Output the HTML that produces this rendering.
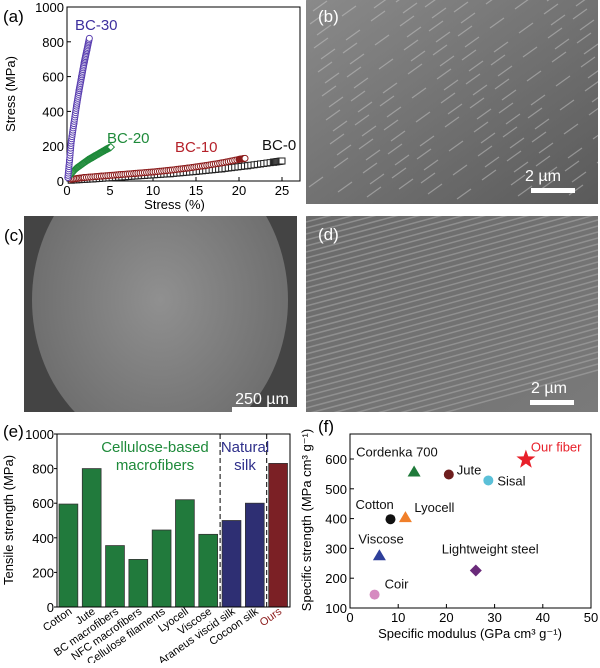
<!DOCTYPE html>
<html><head><meta charset="utf-8"><style>
body{margin:0;background:#fff;font-family:"Liberation Sans",sans-serif;}
svg text{font-family:"Liberation Sans",sans-serif;}
</style></head><body>
<svg width="600" height="663" viewBox="0 0 600 663">
<defs>
<linearGradient id="semb" x1="0" y1="0" x2="1" y2="1"><stop offset="0" stop-color="#8a8a8a"/><stop offset="1" stop-color="#5a5a5a"/></linearGradient>
<linearGradient id="semd" x1="0" y1="0" x2="1" y2="1"><stop offset="0" stop-color="#6a6a6a"/><stop offset="1" stop-color="#7a7a7a"/></linearGradient>
<radialGradient id="semc" cx="0.5" cy="0.5" r="0.55"><stop offset="0" stop-color="#909090"/><stop offset="1" stop-color="#6c6c6c"/></radialGradient>
<clipPath id="clipb"><rect x="306" y="0" width="292" height="204"/></clipPath>
<clipPath id="clipc"><rect x="24" y="216" width="273" height="196"/></clipPath>
<clipPath id="clipd"><rect x="306" y="216" width="292" height="196"/></clipPath>
</defs>

<g id="pa"></g>

<g clip-path="url(#clipb)">
<rect x="306" y="0" width="292" height="204" fill="url(#semb)"/>
<g id="bstreak" stroke="#c8c8c8" stroke-width="1.2" opacity="0.5"></g>
</g>
<text x="318" y="22" font-size="17" fill="#fff">(b)</text>
<text x="543" y="181" font-size="16" fill="#fff" text-anchor="middle">2 µm</text>
<rect x="531" y="188" width="44" height="5" fill="#fff"/>

<text x="4" y="241" font-size="17" fill="#000">(c)</text>
<g clip-path="url(#clipc)">
<rect x="24" y="216" width="273" height="196" fill="#444"/>
<ellipse cx="160" cy="300" rx="128" ry="150" fill="url(#semc)"/>
</g>
<text x="262" y="404" font-size="16" fill="#fff" text-anchor="middle">250 µm</text>
<rect x="232" y="407" width="66" height="5" fill="#fff"/>

<g clip-path="url(#clipd)">
<rect x="306" y="216" width="292" height="196" fill="url(#semd)"/>
<g id="dstreak" stroke="#aaa" stroke-width="1.5" fill="none" opacity="0.55"></g>
</g>
<text x="318" y="240" font-size="17" fill="#fff">(d)</text>
<text x="549" y="393" font-size="16" fill="#fff" text-anchor="middle">2 µm</text>
<rect x="530" y="400" width="44" height="5" fill="#fff"/>

<g id="pe"></g>
<g id="pf"></g>
</svg>
<script>
const NS="http://www.w3.org/2000/svg";
function mk(p,t,a,txt){const e=document.createElementNS(NS,t);for(const k in a)e.setAttribute(k,a[k]);if(txt!==undefined)e.textContent=txt;p.appendChild(e);return e;}

const aXTicks=[0,5,10,15,20,25];
const aYTicks=[0,200,400,600,800,1000];
const bc30Strain=[0.1,0.3,0.5,0.8,1.1,1.4,1.7,2.0,2.3,2.6];
const bc30Stress=[20,120,230,330,430,520,600,680,750,820];
const bc20Strain=[0.3,1,1.7,2.4,3.1,3.8,4.5,5.1];
const bc20Stress=[30,70,95,120,140,160,180,195];
const bc10Strain=[0.5,2,4,6,8,10,12,14,16,18,20,20.7];
const bc10Stress=[10,20,28,36,44,52,62,74,88,104,124,130];
const bc0Strain=[0.5,3,6,9,12,15,18,21,24,25];
const bc0Stress=[5,12,22,32,42,55,70,88,108,115];
(function(){
 const g=document.getElementById('pa');
 const x0=67,x1=300,y0=181,y1=7;
 const X=v=>x0+v*(282-67)/25, Y=v=>y0-v*(y0-y1)/1000;
 mk(g,'text',{x:3,y:22,'font-size':17},'(a)');
 mk(g,'rect',{x:x0,y:y1,width:x1-x0,height:y0-y1,fill:'none',stroke:'#000','stroke-width':1});
 aXTicks.forEach(t=>{mk(g,'line',{x1:X(t),x2:X(t),y1:y0,y2:y0-4,stroke:'#000'});mk(g,'text',{x:X(t),y:y0+14,'font-size':13,'text-anchor':'middle'},t);});
 aYTicks.forEach(t=>{mk(g,'line',{x1:x0,x2:x0+4,y1:Y(t),y2:Y(t),stroke:'#000'});mk(g,'text',{x:x0-3,y:Y(t)+5,'font-size':13,'text-anchor':'end'},t);});
 mk(g,'text',{x:X(12.5),y:y0+28,'font-size':13,'text-anchor':'middle'},'Stress (%)');
 mk(g,'text',{x:15,y:94,'font-size':13,'text-anchor':'middle',transform:'rotate(-90 15 94)'},'Stress (MPa)');
 function series(xs,ys,col,sym,name){
  const s=mk(g,'g',{});
  
  
  for(let i=0;i<xs.length;i++){
   if(i>0){const n=8;for(let k=0;k<n;k++){const f=k/n;const xv=xs[i-1]+(xs[i]-xs[i-1])*f, yv=ys[i-1]+(ys[i]-ys[i-1])*f;dot(s,X(xv),Y(yv),col,sym);}}
   dot(s,X(xs[i]),Y(ys[i]),col,sym);
  }
 }
 function dot(s,cx,cy,col,sym){
  if(sym==='c')mk(s,'circle',{cx,cy,r:3,fill:'#fff',stroke:col,'stroke-width':1});
  else if(sym==='d')mk(s,'path',{d:`M${cx} ${cy-3.5}L${cx+3.5} ${cy}L${cx} ${cy+3.5}L${cx-3.5} ${cy}Z`,fill:'#fff',stroke:col,'stroke-width':1});
  else mk(s,'rect',{x:cx-3,y:cy-3,width:6,height:6,fill:'#fff',stroke:col,'stroke-width':1});
 }
 series(bc0Strain,bc0Stress,'#222','s','series-bc-0');
 series(bc10Strain,bc10Stress,'#8b1a1a','c','series-bc-10');
 series(bc20Strain,bc20Stress,'#1e8a3a','d','series-bc-20');
 series(bc30Strain,bc30Stress,'#5a3fb0','c','series-bc-30');
 mk(g,'text',{x:75,y:30,'font-size':15,fill:'#3d2f9e'},'BC-30');
 mk(g,'text',{x:107,y:143,'font-size':15,fill:'#1e8a3a'},'BC-20');
 mk(g,'text',{x:175,y:152,'font-size':15,fill:'#b5212a'},'BC-10');
 mk(g,'text',{x:262,y:150,'font-size':15,fill:'#111'},'BC-0');
})();

(function(){
 const b=document.getElementById('bstreak');
 for(let i=0;i<140;i++){const x=306+(i*37)%292,y=(i*53)%200;mk(b,'line',{x1:x,y1:y,x2:x+14,y2:y-10});}
 const d=document.getElementById('dstreak');
 for(let i=0;i<40;i++){const y=216+i*6;mk(d,'path',{d:`M306 ${y} Q420 ${y-30} 598 ${y-80}`});}
})();

const eCats=['Cotton','Jute','BC macrofibers','NFC macrofibers','Cellulose filaments','Lyocell','Viscose','Araneus viscid silk','Cocoon silk','Ours'];
const eVals=[595,800,355,275,445,620,420,500,600,830];
const eGroups=['c','c','c','c','c','c','c','s','s','o'];
const eYTicks=[0,200,400,600,800,1000];
(function(){
 const g=document.getElementById('pe');
 const x0=57,x1=290,y0=607,y1=434;
 const Y=v=>y0-v*(y0-y1)/1000;
 const bw=(x1-x0)/eCats.length;
 const col={c:'#217a3c',s:'#2e2f73',o:'#7b2025'};
 mk(g,'text',{x:3,y:437,'font-size':17},'(e)');
 eVals.forEach((v,i)=>{
  const r=mk(g,'rect',{x:x0+i*bw+2,y:Y(v),width:bw-4.5,height:y0-Y(v),fill:col[eGroups[i]],stroke:'#333','stroke-width':0.8});
  
  
  const tx=x0+i*bw+bw/2+4, ty=y0+6;
  mk(g,'text',{x:tx,y:ty,'font-size':11,'text-anchor':'end',fill:eGroups[i]==='o'?'#8b1a1a':'#000',transform:`rotate(-35 ${tx} ${ty})`},eCats[i]);
 });
 mk(g,'rect',{x:x0,y:y1,width:x1-x0,height:y0-y1,fill:'none',stroke:'#000'});
 [x0+7*bw,x0+9*bw].forEach(x=>mk(g,'line',{x1:x,x2:x,y1:y1,y2:y0,stroke:'#000','stroke-dasharray':'5,3'}));
 eYTicks.forEach(t=>{mk(g,'line',{x1:x0-3,x2:x0,y1:Y(t),y2:Y(t),stroke:'#000'});mk(g,'text',{x:x0-3,y:Y(t)+5,'font-size':13,'text-anchor':'end'},t);});
 mk(g,'text',{x:13,y:520,'font-size':13,'text-anchor':'middle',transform:'rotate(-90 13 520)'},'Tensile strength (MPa)');
 mk(g,'text',{x:155,y:452,'font-size':15,fill:'#1e8a3a','text-anchor':'middle'},'Cellulose-based');
 mk(g,'text',{x:155,y:470,'font-size':15,fill:'#1e8a3a','text-anchor':'middle'},'macrofibers');
 mk(g,'text',{x:245,y:452,'font-size':15,fill:'#2e2f8a','text-anchor':'middle'},'Natural');
 mk(g,'text',{x:245,y:470,'font-size':15,fill:'#2e2f8a','text-anchor':'middle'},'silk');
})();

const fNames=['Our fiber','Cordenka 700','Jute','Sisal','Cotton','Lyocell','Viscose','Lightweight steel','Coir'];
const fModulus=[36.5,13.3,20.5,28.7,8.4,11.5,6.1,26.1,5.1];
const fStrength=[598,558,548,528,398,405,277,226,145];
const fXTicks=[0,10,20,30,40,50];
const fYTicks=[100,200,300,400,500,600];
(function(){
 const g=document.getElementById('pf');
 const x0=350,x1=591,y0=608,y1=434;
 const X=v=>x0+v*(x1-x0)/50, Y=v=>y0-(v-100)*(608-459)/500;
 mk(g,'text',{x:318,y:432,'font-size':17},'(f)');
 mk(g,'rect',{x:x0,y:y1,width:x1-x0,height:y0-y1,fill:'none',stroke:'#000'});
 fXTicks.forEach(t=>{mk(g,'line',{x1:X(t),x2:X(t),y1:y0,y2:y0-4,stroke:'#000'});mk(g,'text',{x:X(t),y:y0+14,'font-size':13,'text-anchor':'middle'},t);});
 fYTicks.forEach(t=>{mk(g,'line',{x1:x0,x2:x0+4,y1:Y(t),y2:Y(t),stroke:'#000'});mk(g,'text',{x:x0-3,y:Y(t)+5,'font-size':13,'text-anchor':'end'},t);});
 mk(g,'text',{x:470,y:638,'font-size':13,'text-anchor':'middle'},'Specific modulus (GPa cm³ g⁻¹)');
 mk(g,'text',{x:311,y:520,'font-size':13,'text-anchor':'middle',transform:'rotate(-90 311 520)'},'Specific strength (MPa cm³ g⁻¹)');
 const cols=['#e8202a','#1f7a3a','#6e1e1e','#5bc0d8','#111','#f07f2a','#2e3f9a','#6a2a7a','#d68ac0'];
 const syms=['star','tri','circ','circ','circ','tri','tri','dia','circ'];
 const lab=[[5,-8,'start','#e8202a'],[-58,-15,'start'],[8,0,'start'],[9,5,'start'],[-35,-10,'start'],[9,-5,'start'],[-21,-12,'start'],[-34,-17,'start'],[10,-6,'start']];
 fNames.forEach((n,i)=>{
  const cx=X(fModulus[i]),cy=Y(fStrength[i]),c=cols[i];let el;
  if(syms[i]==='circ')el=mk(g,'circle',{cx,cy,r:5,fill:c});
  else if(syms[i]==='tri')el=mk(g,'path',{d:`M${cx} ${cy-6}L${cx+6.5} ${cy+5}L${cx-6.5} ${cy+5}Z`,fill:c});
  else if(syms[i]==='dia')el=mk(g,'path',{d:`M${cx} ${cy-6}L${cx+6} ${cy}L${cx} ${cy+6}L${cx-6} ${cy}Z`,fill:c});
  else{let d='';for(let k=0;k<10;k++){const r=k%2?4:10,a=-Math.PI/2+k*Math.PI/5;d+=(k?'L':'M')+(cx+r*Math.cos(a)).toFixed(1)+' '+(cy+r*Math.sin(a)).toFixed(1);}el=mk(g,'path',{d:d+'Z',fill:c});}
  
  
  const L=lab[i];
  mk(g,'text',{x:cx+L[0],y:cy+L[1],'font-size':13,fill:L[3]||'#111'},n);
 });
})();
</script>
</body></html>
